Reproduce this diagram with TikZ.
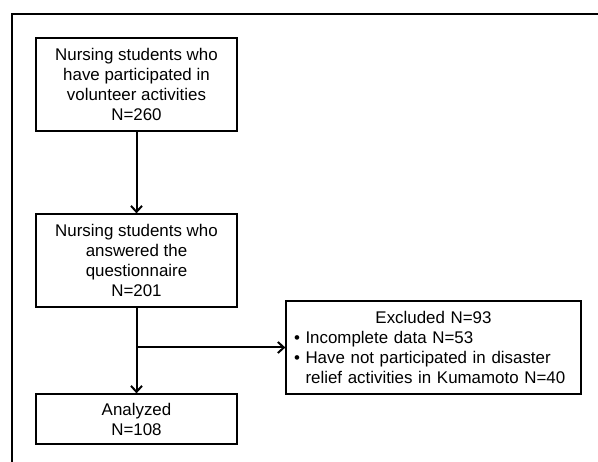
\documentclass[tikz,border=0pt]{standalone}
\usepackage{fontspec}
\setmainfont{Liberation Sans}
\usetikzlibrary{arrows.meta}
\begin{document}
\begin{tikzpicture}[x=1pt,y=-1pt,
  flowbox/.style={draw, line width=1.3pt, minimum width=201pt, align=center, inner sep=0pt,
    font=\fontsize{16.9}{20}\selectfont},
  flowarrow/.style={line width=2pt, -{Straight Barb[length=6pt,width=11pt,line width=2pt]}}]
\useasboundingbox (0,0) rectangle (598,462);
\draw[line width=2.6pt] (12,462) -- (12,14) -- (598,14); % Outer frame
\node[flowbox, minimum height=93pt] (n260) at (136.5,84.5) {Nursing students who\\have participated in\\volunteer activities\\N=260};
\node[flowbox, minimum height=93pt] (n201) at (136.5,260.5) {Nursing students who\\answered the\\questionnaire\\N=201};
\node[flowbox, minimum height=50pt] (n108) at (136.5,419) {Analyzed\\N=108};
\node[flowbox, minimum width=295pt, minimum height=93pt, text width=279pt, align=left] (excl) at (433.5,347.5)
  {\makebox[\linewidth]{Excluded N=93}\\
   \textbullet\ Incomplete data N=53\\
   \textbullet\ Have not participated in disaster\\
   \hphantom{\textbullet\ }relief activities in Kumamoto N=40};
\draw[flowarrow] (n260) -- (n201);
\draw[flowarrow] (n201) -- (n108);
\draw[flowarrow] (n201.south |- excl.west) -- (excl.west); % Branch to excluded
\end{tikzpicture}
\end{document}
